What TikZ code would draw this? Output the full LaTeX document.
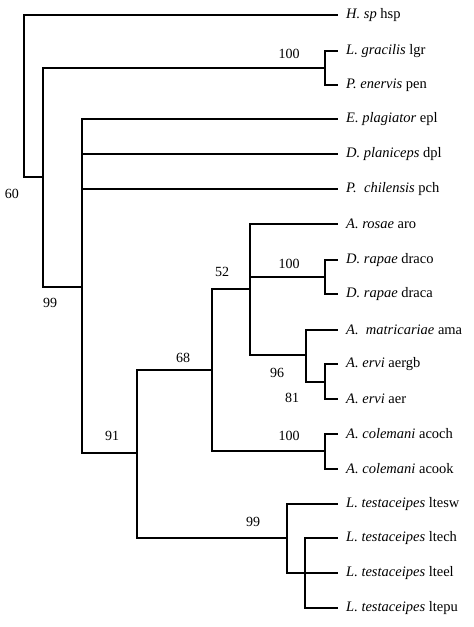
\documentclass[tikz,border=0pt]{standalone}
\usepackage{fontspec}
\setmainfont{Liberation Serif}
\begin{document}
\begin{tikzpicture}[x=1pt,y=-1pt,
  branch/.style={line width=1.3pt,line cap=rect},
  leaf/.style={anchor=west,inner sep=0pt,font=\fontsize{14.5}{16}\selectfont},
  boot/.style={inner sep=0pt,font=\fontsize{14}{16}\selectfont}]
\useasboundingbox (0,0) rectangle (474,627);
% internal nodes
\coordinate (r) at (24,177);
\coordinate (n1) at (43,177);
\coordinate (nlp) at (325,68);
\coordinate (n2) at (82,287);
\coordinate (n91) at (137,453);
\coordinate (n68) at (212,370);
\coordinate (n52) at (250,289);
\coordinate (nd) at (325,277);
\coordinate (n96) at (306,355);
\coordinate (n81) at (325,382);
\coordinate (nac) at (325,451);
\coordinate (n99) at (287,538);
\coordinate (nlt) at (305,573);
% leaves
\coordinate (hsp) at (337,15);
\coordinate (lgr) at (337,51);
\coordinate (pen) at (337,85);
\coordinate (epl) at (337,119);
\coordinate (dpl) at (337,154);
\coordinate (pch) at (337,189);
\coordinate (aro) at (337,224);
\coordinate (draco) at (337,260);
\coordinate (draca) at (337,294);
\coordinate (ama) at (337,330);
\coordinate (aergb) at (337,364);
\coordinate (aer) at (337,399);
\coordinate (acoch) at (337,434);
\coordinate (acook) at (337,469);
\coordinate (ltesw) at (337,504);
\coordinate (ltech) at (337,538);
\coordinate (lteel) at (337,573);
\coordinate (ltepu) at (337,608);
% branches
\draw[branch] (r) |- (hsp);
\draw[branch] (r) -- (n1);
\draw[branch] (n1) |- (nlp);
\draw[branch] (n1) |- (n2);
\draw[branch] (nlp) |- (lgr);
\draw[branch] (nlp) |- (pen);
\draw[branch] (n2) |- (epl);
\draw[branch] (n2) |- (dpl);
\draw[branch] (n2) |- (pch);
\draw[branch] (n2) |- (n91);
\draw[branch] (n91) |- (n68);
\draw[branch] (n91) |- (n99);
\draw[branch] (n68) |- (n52);
\draw[branch] (n68) |- (nac);
\draw[branch] (n52) |- (aro);
\draw[branch] (n52) |- (nd);
\draw[branch] (n52) |- (n96);
\draw[branch] (nd) |- (draco);
\draw[branch] (nd) |- (draca);
\draw[branch] (n96) |- (ama);
\draw[branch] (n96) |- (n81);
\draw[branch] (n81) |- (aergb);
\draw[branch] (n81) |- (aer);
\draw[branch] (nac) |- (acoch);
\draw[branch] (nac) |- (acook);
\draw[branch] (n99) |- (ltesw);
\draw[branch] (n99) |- (lteel);
\draw[branch] (nlt) |- (ltech);
\draw[branch] (nlt) |- (ltepu);
% leaf labels
\node[leaf] (Lhsp) at ([xshift=9pt]hsp) {\textit{H. sp} hsp};
\node[leaf] (Llgr) at ([xshift=9pt]lgr) {\textit{L. gracilis} lgr};
\node[leaf] (Lpen) at ([xshift=9pt]pen) {\textit{P. enervis} pen};
\node[leaf] (Lepl) at ([xshift=9pt]epl) {\textit{E. plagiator} epl};
\node[leaf] (Ldpl) at ([xshift=9pt]dpl) {\textit{D. planiceps} dpl};
\node[leaf] (Lpch) at ([xshift=9pt]pch) {\textit{P.\ \ chilensis} pch};
\node[leaf] (Laro) at ([xshift=9pt]aro) {\textit{A. rosae} aro};
\node[leaf] (Ldraco) at ([xshift=9pt]draco) {\textit{D. rapae} draco};
\node[leaf] (Ldraca) at ([xshift=9pt]draca) {\textit{D. rapae} draca};
\node[leaf] (Lama) at ([xshift=9pt]ama) {\textit{A.\ \ matricariae} ama};
\node[leaf] (Laergb) at ([xshift=9pt]aergb) {\textit{A. ervi} aergb};
\node[leaf] (Laer) at ([xshift=9pt]aer) {\textit{A. ervi} aer};
\node[leaf] (Lacoch) at ([xshift=9pt]acoch) {\textit{A. colemani} acoch};
\node[leaf] (Lacook) at ([xshift=9pt]acook) {\textit{A. colemani} acook};
\node[leaf] (Lltesw) at ([xshift=9pt]ltesw) {\textit{L. testaceipes} ltesw};
\node[leaf] (Lltech) at ([xshift=9pt]ltech) {\textit{L. testaceipes} ltech};
\node[leaf] (Llteel) at ([xshift=9pt]lteel) {\textit{L. testaceipes} lteel};
\node[leaf] (Lltepu) at ([xshift=9pt]ltepu) {\textit{L. testaceipes} ltepu};
% bootstrap values
\node[boot] (b60) at (12,194) {60};
\node[boot] (b99a) at (50,303) {99};
\node[boot] (b100a) at (289,54) {100};
\node[boot] (b100b) at (289,264) {100};
\node[boot] (b52) at (222,272) {52};
\node[boot] (b68) at (183,358) {68};
\node[boot] (b96) at (277,373) {96};
\node[boot] (b81) at (292,398) {81};
\node[boot] (b91) at (112,436) {91};
\node[boot] (b100c) at (289,436) {100};
\node[boot] (b99b) at (253,522) {99};
\end{tikzpicture}
\end{document}
